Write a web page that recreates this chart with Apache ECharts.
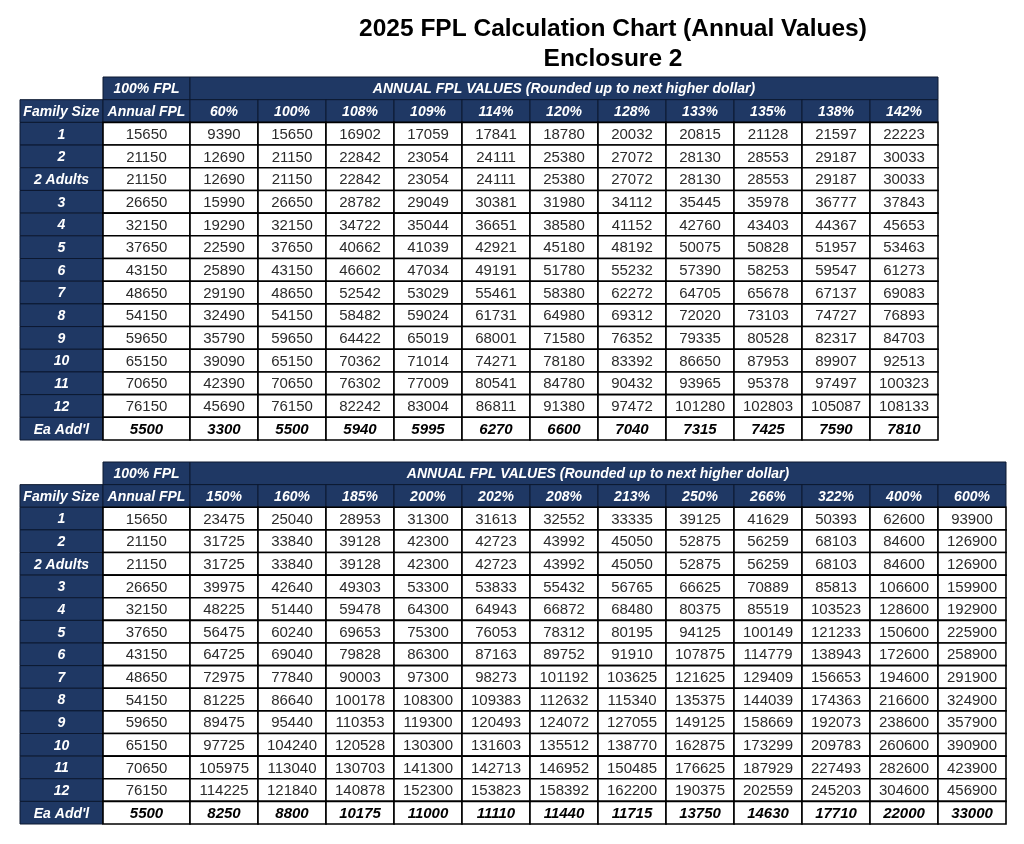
<!DOCTYPE html>
<html><head><meta charset="utf-8">
<script src="https://cdn.jsdelivr.net/npm/echarts@6/dist/echarts.min.js"></script>
<style>html,body{margin:0;padding:0;background:#fff}#c{width:1024px;height:844px}</style>
</head><body><div id="c"></div>
<script>
// ---------- DATA ----------
const titleText = '2025 FPL Calculation Chart (Annual Values)';
const subtitleText = 'Enclosure 2';
const headerFPL = '100% FPL';
const headerSpan = 'ANNUAL FPL VALUES (Rounded up to next higher dollar)';
const headerFamily = 'Family Size';
const headerAnnual = 'Annual FPL';

const familySizes = ['1', '2', '2 Adults', '3', '4', '5', '6', '7', '8', '9', '10', '11', '12', "Ea Add'l"];
const annualFPL = [15650, 21150, 21150, 26650, 32150, 37650, 43150, 48650, 54150, 59650, 65150, 70650, 76150, 5500];

const pct1 = ['60%', '100%', '108%', '109%', '114%', '120%', '128%', '133%', '135%', '138%', '142%'];
const values1 = [
  [9390, 15650, 16902, 17059, 17841, 18780, 20032, 20815, 21128, 21597, 22223],
  [12690, 21150, 22842, 23054, 24111, 25380, 27072, 28130, 28553, 29187, 30033],
  [12690, 21150, 22842, 23054, 24111, 25380, 27072, 28130, 28553, 29187, 30033],
  [15990, 26650, 28782, 29049, 30381, 31980, 34112, 35445, 35978, 36777, 37843],
  [19290, 32150, 34722, 35044, 36651, 38580, 41152, 42760, 43403, 44367, 45653],
  [22590, 37650, 40662, 41039, 42921, 45180, 48192, 50075, 50828, 51957, 53463],
  [25890, 43150, 46602, 47034, 49191, 51780, 55232, 57390, 58253, 59547, 61273],
  [29190, 48650, 52542, 53029, 55461, 58380, 62272, 64705, 65678, 67137, 69083],
  [32490, 54150, 58482, 59024, 61731, 64980, 69312, 72020, 73103, 74727, 76893],
  [35790, 59650, 64422, 65019, 68001, 71580, 76352, 79335, 80528, 82317, 84703],
  [39090, 65150, 70362, 71014, 74271, 78180, 83392, 86650, 87953, 89907, 92513],
  [42390, 70650, 76302, 77009, 80541, 84780, 90432, 93965, 95378, 97497, 100323],
  [45690, 76150, 82242, 83004, 86811, 91380, 97472, 101280, 102803, 105087, 108133],
  [3300, 5500, 5940, 5995, 6270, 6600, 7040, 7315, 7425, 7590, 7810]
];

const pct2 = ['150%', '160%', '185%', '200%', '202%', '208%', '213%', '250%', '266%', '322%', '400%', '600%'];
const values2 = [
  [23475, 25040, 28953, 31300, 31613, 32552, 33335, 39125, 41629, 50393, 62600, 93900],
  [31725, 33840, 39128, 42300, 42723, 43992, 45050, 52875, 56259, 68103, 84600, 126900],
  [31725, 33840, 39128, 42300, 42723, 43992, 45050, 52875, 56259, 68103, 84600, 126900],
  [39975, 42640, 49303, 53300, 53833, 55432, 56765, 66625, 70889, 85813, 106600, 159900],
  [48225, 51440, 59478, 64300, 64943, 66872, 68480, 80375, 85519, 103523, 128600, 192900],
  [56475, 60240, 69653, 75300, 76053, 78312, 80195, 94125, 100149, 121233, 150600, 225900],
  [64725, 69040, 79828, 86300, 87163, 89752, 91910, 107875, 114779, 138943, 172600, 258900],
  [72975, 77840, 90003, 97300, 98273, 101192, 103625, 121625, 129409, 156653, 194600, 291900],
  [81225, 86640, 100178, 108300, 109383, 112632, 115340, 135375, 144039, 174363, 216600, 324900],
  [89475, 95440, 110353, 119300, 120493, 124072, 127055, 149125, 158669, 192073, 238600, 357900],
  [97725, 104240, 120528, 130300, 131603, 135512, 138770, 162875, 173299, 209783, 260600, 390900],
  [105975, 113040, 130703, 141300, 142713, 146952, 150485, 176625, 187929, 227493, 282600, 423900],
  [114225, 121840, 140878, 152300, 153823, 158392, 162200, 190375, 202559, 245203, 304600, 456900],
  [8250, 8800, 10175, 11000, 11110, 11440, 11715, 13750, 14630, 17710, 22000, 33000]
];

// ---------- LAYOUT / STYLE ----------
const NAVY = '#1f3864';
const FONT = '"Liberation Sans", Arial, sans-serif';
const COLW = [83, 87];
const VALW = 68;
const NROWS = familySizes.length + 2;

function colW(k) { return k === 0 ? COLW[0] : k === 1 ? COLW[1] : VALW; }
function colStart(c) { let s = 0; for (let k = 0; k < c; k++) s += colW(k); return s; }
function spanWidth(c, span) { let w = 0; for (let k = c; k < c + span; k++) w += colW(k); return w; }
function tableWidth(n) { return spanWidth(0, n + 2); }

function buildItems(pcts, values) {
  const items = [];
  const n = pcts.length;
  items.push({ value: [1, 0, 1], label: headerFPL, kind: 'head' });
  items.push({ value: [2, 0, n], label: headerSpan, kind: 'head' });
  items.push({ value: [0, 1, 1], label: headerFamily, kind: 'head' });
  items.push({ value: [1, 1, 1], label: headerAnnual, kind: 'head' });
  pcts.forEach((p, i) => items.push({ value: [2 + i, 1, 1], label: p, kind: 'head' }));
  familySizes.forEach((f, r) => items.push({ value: [0, 2 + r, 1], label: f, kind: 'head' }));
  familySizes.forEach((f, r) => {
    const last = r === familySizes.length - 1;
    const kind = last ? 'total' : 'cell';
    items.push({ value: [1, 2 + r, 1], label: String(annualFPL[r]), kind });
    values[r].forEach((v, i) => items.push({ value: [2 + i, 2 + r, 1], label: String(v), kind }));
  });
  return items;
}

function makeRender(items) {
  return function (params, api) {
    const it = items[params.dataIndex];
    const c = api.value(0), r = api.value(1), span = api.value(2);
    const x0 = colStart(c), x1 = x0 + spanWidth(c, span);
    const p0 = api.coord([x0, r]);
    const p1 = api.coord([x1, r + 1]);
    const x = Math.min(p0[0], p1[0]), y = Math.min(p0[1], p1[1]);
    const w = Math.abs(p1[0] - p0[0]), h = Math.abs(p1[1] - p0[1]);
    const head = it.kind === 'head';
    let font, fill;
    if (head) { font = 'italic bold 14px ' + FONT; fill = '#ffffff'; }
    else if (it.kind === 'total') { font = 'italic bold 15px ' + FONT; fill = '#000000'; }
    else { font = '15px ' + FONT; fill = '#2b2b2b'; }
    return {
      type: 'group',
      children: [
        { type: 'rect', shape: { x, y, width: w, height: h },
          style: { fill: head ? NAVY : '#ffffff', stroke: head ? '#0c1830' : '#000000', lineWidth: head ? 1 : 1.6 } },
        { type: 'text', x: x + w / 2, y: y + h / 2 + 1,
          style: { text: it.label, fill, font, textAlign: 'center', textVerticalAlign: 'middle' } }
      ]
    };
  };
}

const items1 = buildItems(pct1, values1);
const items2 = buildItems(pct2, values2);

const tables = [
  { items: items1, n: pct1.length, top: 77, height: 363 },
  { items: items2, n: pct2.length, top: 462, height: 362 }
];

const option = {
  backgroundColor: '#ffffff',
  animation: false,
  title: [
    { text: titleText, left: 613, top: 15, textAlign: 'center', padding: 0,
      textStyle: { fontFamily: FONT, fontWeight: 'bold', fontSize: 24.5, color: '#000', lineHeight: 28 } },
    { text: subtitleText, left: 613, top: 45, textAlign: 'center', padding: 0,
      textStyle: { fontFamily: FONT, fontWeight: 'bold', fontSize: 24.5, color: '#000', lineHeight: 28 } }
  ],
  grid: tables.map(t => ({ left: 20, top: t.top, width: tableWidth(t.n), height: t.height, containLabel: false, show: false })),
  xAxis: tables.map((t, i) => ({ type: 'value', gridIndex: i, min: 0, max: tableWidth(t.n), show: false })),
  yAxis: tables.map((t, i) => ({ type: 'value', gridIndex: i, min: 0, max: NROWS, inverse: true, show: false })),
  series: tables.map((t, i) => ({
    type: 'custom', xAxisIndex: i, yAxisIndex: i, clip: false,
    renderItem: makeRender(t.items),
    data: t.items.map(it => it.value)
  }))
};

const chart = echarts.init(document.getElementById('c'), null, { renderer: 'canvas' });
chart.setOption(option);
</script>
</body></html>
